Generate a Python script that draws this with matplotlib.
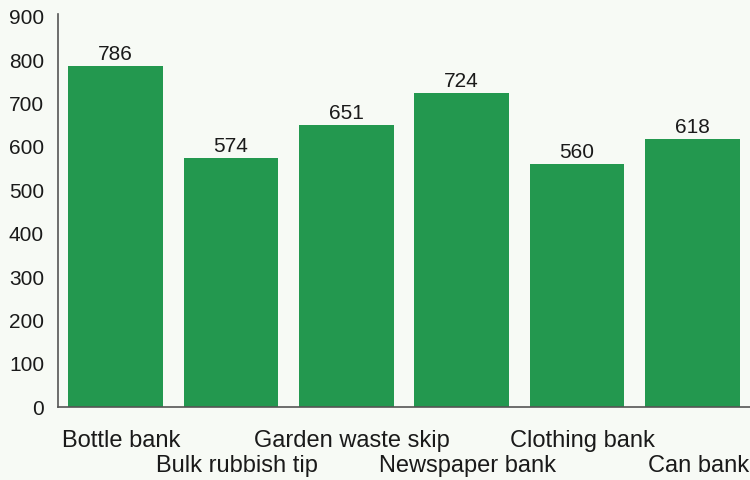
import matplotlib
matplotlib.use("Agg")
import matplotlib.pyplot as plt
import matplotlib.transforms as mtransforms

sites = ["Bottle bank", "Bulk rubbish tip", "Garden waste skip",
         "Newspaper bank", "Clothing bank", "Can bank"]
counts = [786, 574, 651, 724, 560, 618]
yticks = [0, 100, 200, 300, 400, 500, 600, 700, 800, 900]

plt.rcParams['font.family'] = ['Liberation Sans', 'DejaVu Sans']

bg = '#f7faf5'
green = '#23984f'

fig = plt.figure(figsize=(7.5, 4.8), dpi=100, facecolor=bg)
ax = fig.add_axes([0.0773, 0.152, 0.9227, 0.819])
ax.set_facecolor(bg)

x = range(len(sites))
ax.bar(x, counts, width=0.82, color=green, zorder=2)

for xi, v in zip(x, counts):
    ax.text(xi, v + 5, str(v), ha='center', va='bottom', fontsize=15, color='#1a1a1a')

ax.set_xlim(-0.5, 5.5)
ax.set_ylim(0, 907)
ax.set_yticks(yticks)
ax.set_yticklabels([str(t) for t in yticks], fontsize=15, color='#1a1a1a')
ax.tick_params(axis='y', length=0, pad=10)
ax.set_xticks([])

for side in ['top', 'right']:
    ax.spines[side].set_visible(False)
ax.spines['left'].set_color('#555555')
ax.spines['bottom'].set_color('#555555')
ax.spines['left'].set_linewidth(1.2)
ax.spines['bottom'].set_linewidth(1.2)

# staggered category labels under the bars
trans = mtransforms.blended_transform_factory(ax.transData, fig.transFigure)
for i, name in enumerate(sites):
    ypos = 1 - 441 / 480 if i % 2 == 0 else 1 - 466 / 480
    ax.text(i + 0.05, ypos, name, transform=trans, ha='center', va='center',
            fontsize=17, color='#1a1a1a')

fig.savefig('out.png', dpi=100, facecolor=bg)
